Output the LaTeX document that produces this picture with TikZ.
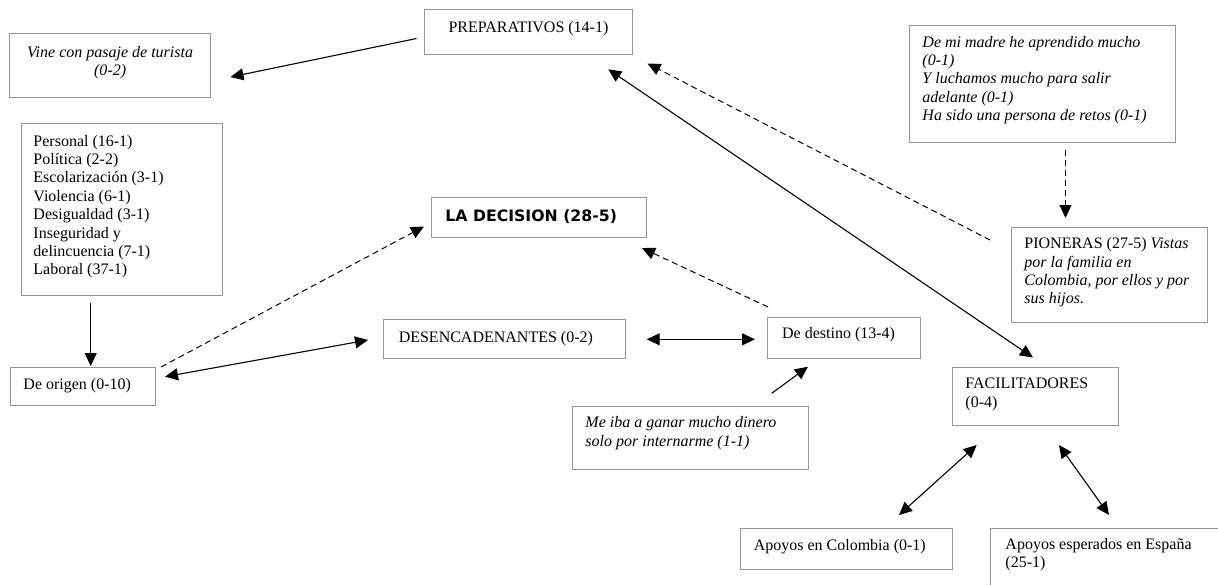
\documentclass[tikz,border=0pt]{standalone}
\usepackage{fontspec}
\setmainfont{Liberation Serif}
\newfontfamily\decfont{DejaVu Sans}
\usetikzlibrary{arrows.meta}
\definecolor{boxgray}{RGB}{150,150,150}
\newcommand{\tbox}[5]{\begin{minipage}[t][#2pt][t]{#1pt}#3\rule{0pt}{#4pt}#5\end{minipage}}
\newcommand{\lft}[1]{\raggedright\leftskip=#1pt\relax}
\tikzset{
  box/.style={draw=boxgray, line width=0.9pt, inner sep=0pt, anchor=north west,
    font=\fontsize{16}{18.4}\selectfont},
  arr/.style={line width=1.1pt, -{Triangle[length=13pt,width=12pt]}},
  darr/.style={line width=1.1pt, {Triangle[length=13pt,width=12pt]}-{Triangle[length=13pt,width=12pt]}},
  dsh/.style={line width=1pt, dash pattern=on 6pt off 4pt, -{Triangle[length=13pt,width=12pt]}}
}
\begin{document}
\begin{tikzpicture}[x=1pt,y=-1pt]
\useasboundingbox (0,0) rectangle (1218,584);
\clip (0,0) rectangle (1218,584);
\fill[white] (0,0) rectangle (1218,584);

\node[box] (vine) at (9.3,33.3) {\tbox{200.7}{63.7}{\centering}{23.4}{\itshape Vine con pasaje de turista\\(0-2)}};
\node[box] (prep) at (424,9.3) {\tbox{208}{44.7}{\centering}{23.2}{PREPARATIVOS (14-1)}};
\node[box] (madre) at (909,25) {\tbox{266}{117}{\lft{13}}{21.7}{\itshape De mi madre he aprendido mucho\\(0-1)\\Y luchamos mucho para salir\\adelante (0-1)\\Ha sido una persona de retos (0-1)}};
\node[box] (motivos) at (20.7,122.7) {\tbox{201}{172.3}{\lft{12.3}}{23}{Personal (16-1)\\Política (2-2)\\Escolarización (3-1)\\Violencia (6-1)\\Desigualdad (3-1)\\Inseguridad y\\delincuencia (7-1)\\Laboral (37-1)}};
\node[box] (origen) at (10,366.7) {\tbox{145}{38.3}{\lft{13}}{22.6}{De origen (0-10)}};
\node[box, font=\decfont\bfseries\fontsize{15.7}{18.4}\selectfont] (decision) at (431,197.3) {\tbox{215}{40}{\lft{14}}{23.4}{LA DECISION (28-5)}};
\node[box] (desenc) at (383.3,319.3) {\tbox{241.7}{39}{\lft{15}}{22.4}{DESENCADENANTES (0-2)}};
\node[box] (destino) at (767.3,316.5) {\tbox{152.7}{41}{\lft{14.4}}{21.8}{De destino (13-4)}};
\node[box] (meiba) at (571.7,406) {\tbox{236}{63}{\lft{13.3}}{21.3}{\itshape Me iba a ganar mucho dinero\\solo por internarme (1-1)}};
\node[box] (pioneras) at (1010.7,226.7) {\tbox{196.6}{95.6}{\lft{13.3}}{21.6}{PIONERAS (27-5) \textit{Vistas}\\\textit{por la familia en}\\\textit{Colombia, por ellos y por}\\\textit{sus hijos.}}};
\node[box] (facil) at (951.7,366.7) {\tbox{166}{58.3}{\lft{13.3}}{21.6}{FACILITADORES\\(0-4)}};
\node[box] (apcol) at (740,528.3) {\tbox{211.7}{41}{\lft{13.3}}{21.7}{Apoyos en Colombia (0-1)}};
\node[box] (apesp) at (990,528.3) {\tbox{250}{70}{\lft{15}}{20.7}{Apoyos esperados en España\\(25-1)}};

\coordinate (p1) at (416.5,38.5);   \coordinate (p2) at (230.5,77);
\coordinate (l1) at (90.7,303);     \coordinate (l2) at (90.7,366);
\coordinate (o1) at (161,367);      \coordinate (o2) at (424,226.5);
\coordinate (od1) at (165,376.7);   \coordinate (od2) at (368,340);
\coordinate (dd1) at (646.7,339.3); \coordinate (dd2) at (755,339.3);
\coordinate (ds1) at (768,307);     \coordinate (ds2) at (642,248);
\coordinate (m1) at (771.7,393.3);  \coordinate (m2) at (808,366.7);
\coordinate (pi1) at (990,240);     \coordinate (pi2) at (647.5,63.5);
\coordinate (pf1) at (608.3,69.3);  \coordinate (pf2) at (1033,357.5);
\coordinate (t1) at (1065.5,150);   \coordinate (t2) at (1065.5,218);
\coordinate (f1) at (976.7,445);    \coordinate (f2) at (899,515);
\coordinate (g1) at (1059,445);     \coordinate (g2) at (1109,515);

\draw[arr] (p1) -- (p2);
\draw[arr] (l1) -- (l2);
\draw[dsh] (o1) -- (o2);
\draw[darr] (od1) -- (od2);
\draw[darr] (dd1) -- (dd2);
\draw[dsh] (ds1) -- (ds2);
\draw[arr] (m1) -- (m2);
\draw[dsh] (pi1) -- (pi2);
\draw[darr] (pf1) -- (pf2);
\draw[dsh] (t1) -- (t2);
\draw[darr] (f1) -- (f2);
\draw[darr] (g1) -- (g2);
\end{tikzpicture}
\end{document}
